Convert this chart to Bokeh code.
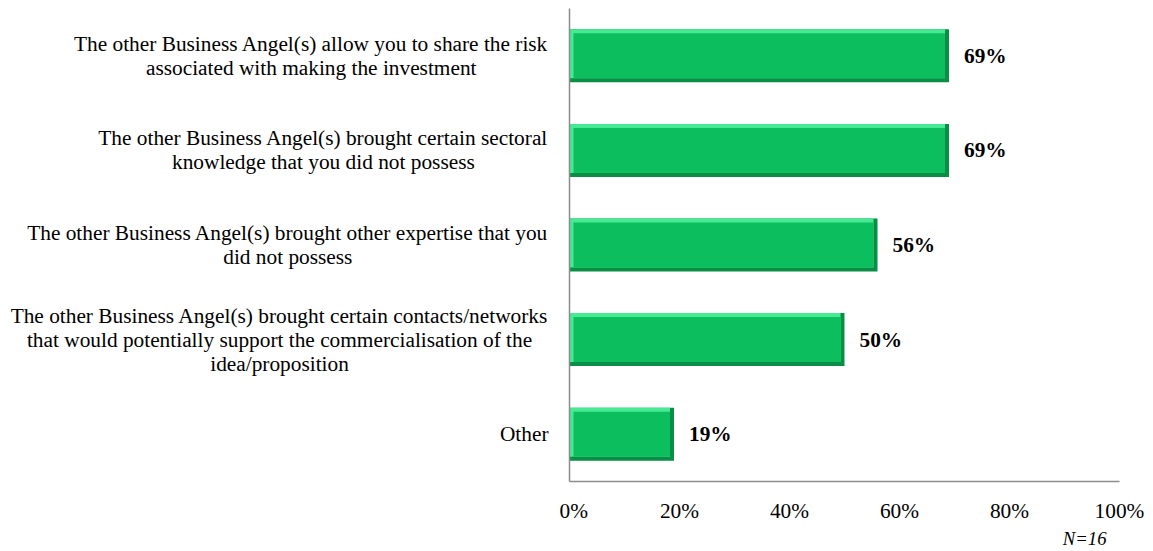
from bokeh.plotting import figure
from bokeh.layouts import row
from bokeh.models import (FactorRange, Range1d, ColumnDataSource, LabelSet, FixedTicker, Title)
from bokeh.core.properties import value
from bokeh.transform import dodge
from bokeh.embed import file_html
from bokeh.resources import INLINE

# ---------------- data ----------------
categories = [
    "The other Business Angel(s) allow you to share the risk\nassociated with making the investment",
    "The other Business Angel(s) brought certain sectoral\nknowledge that you did not possess",
    "The other Business Angel(s) brought other expertise that you\ndid not possess",
    "The other Business Angel(s) brought certain contacts/networks\nthat would potentially support the commercialisation of the\nidea/proposition",
    "Other",
]
values = [69, 69, 56, 50, 19]
value_labels = ["69%", "69%", "56%", "50%", "19%"]
tick_values = [0, 20, 40, 60, 80, 100]
tick_labels = ["0%", "20%", "40%", "60%", "80%", "100%"]
sample_note = "N=16"

# ---------------- layout / style ----------------
W, H = 1153, 551
AXIS_X = 569            # screen x of the value axis
RIGHT, TOP, BOTTOM = 34, 8, 70
MAIN_BORDER_LEFT = 10
LEFT_W = AXIS_X - MAIN_BORDER_LEFT
MAIN_W = W - LEFT_W
FONT = "'Liberation Serif'"
FS = 21.33  # px (16pt)
FS_STR = "16pt"
AXIS_COLOR = "#8c8c8c"
EDGE_DARK = "#0A8E46"
EDGE_LIGHT = "#45EA93"
FACE = "#0DBE5E"
BAR_H = 0.56

frame_w = W - AXIS_X - RIGHT
frame_h = H - TOP - BOTTOM
px_x = frame_w / 100.0
px_y = frame_h / len(categories)
bevel = 4.0
dx = bevel / px_x
dy = bevel / px_y

# approximate Times metrics (1/1000 em) for centring wrapped label blocks
_w = dict(zip("abcdefghijklmnopqrstuvwxyz",
              [444, 500, 444, 500, 444, 333, 500, 500, 278, 278, 500, 278, 778,
               500, 500, 500, 500, 333, 389, 278, 500, 500, 722, 500, 500, 444]))
_w.update(dict(zip("ABCDEFGHIJKLMNOPQRSTUVWXYZ",
                   [722, 667, 667, 722, 611, 556, 722, 722, 333, 389, 722, 611, 889,
                    722, 722, 556, 722, 667, 556, 611, 722, 722, 944, 722, 722, 611])))
_w.update({" ": 250, "(": 333, ")": 333, "/": 278, "%": 833, ".": 250, ",": 250})


def text_px(s):
    return sum(_w.get(c, 500) for c in s) / 1000.0 * FS


gap = 21
block_right = LEFT_W - (gap - MAIN_BORDER_LEFT)
label_x = [block_right - max(text_px(l) for l in c.split("\n")) / 2.0 for c in categories]

yr = FactorRange(factors=list(reversed(categories)))

src = ColumnDataSource(dict(
    cat=categories,
    val=values,
    base=[0] * len(values),
    face_left=[dx] * len(values),
    inner_right=[v - dx for v in values],
    vlab=value_labels,
    lx=label_x,
))

# ---------- left panel: category labels ----------
pl = figure(width=LEFT_W, height=H, output_backend="svg", toolbar_location=None,
            y_range=yr, x_range=Range1d(0, LEFT_W),
            min_border_left=0, min_border_right=0,
            min_border_top=TOP, min_border_bottom=BOTTOM)
pl.xaxis.visible = False
pl.yaxis.visible = False
pl.grid.visible = False
pl.outline_line_color = None
pl.text(x="lx", y="cat", text="cat", source=src, text_align="center",
        text_baseline="middle", text_font=value(FONT), text_font_size=FS_STR,
        text_color="black", text_line_height=1.0)

# ---------- main panel: bars ----------
p = figure(width=MAIN_W, height=H, output_backend="svg", toolbar_location=None,
           y_range=yr, x_range=Range1d(0, 100),
           min_border_left=MAIN_BORDER_LEFT, min_border_right=RIGHT,
           min_border_top=TOP, min_border_bottom=BOTTOM)
p.outline_line_color = None
p.background_fill_color = "white"
p.border_fill_color = "white"
p.grid.visible = False

# vertical category axis: line only (labels are drawn in the left panel)
p.yaxis.ticker = FixedTicker(ticks=[])
p.yaxis.axis_line_color = AXIS_COLOR
p.yaxis.axis_line_width = 1.5
p.yaxis.major_tick_line_color = None
p.yaxis.minor_tick_line_color = None

# bars with bevel effect
p.hbar(y="cat", left="base", right="val", height=BAR_H, source=src,
       fill_color=EDGE_DARK, line_color=None)
p.hbar(y=dodge("cat", dy / 2, range=yr), left="base", right="inner_right",
       height=BAR_H - dy, source=src, fill_color=EDGE_LIGHT, line_color=None)
p.hbar(y="cat", left="face_left", right="inner_right", height=BAR_H - 2 * dy, source=src,
       fill_color=FACE, line_color=None)

p.xaxis.ticker = FixedTicker(ticks=tick_values)
p.xaxis.major_label_overrides = {t: l for t, l in zip(tick_values, tick_labels)}
p.xaxis.axis_line_color = AXIS_COLOR
p.xaxis.axis_line_width = 1.5
p.xaxis.major_tick_line_color = None
p.xaxis.minor_tick_line_color = None
p.xaxis.major_tick_out = 0
p.xaxis.major_label_standoff = 17
p.xaxis.major_label_text_font = FONT
p.xaxis.major_label_text_font_size = FS_STR
p.xaxis.major_label_text_color = "black"

# value labels
p.add_layout(LabelSet(x="val", y="cat", text="vlab", x_offset=15, source=src,
                      text_align="left", text_baseline="middle",
                      text_font=FONT, text_font_size=FS_STR, text_font_style="bold",
                      text_color="black"))

# sample size note
p.add_layout(Title(text=sample_note, align="right", offset=13,
                   text_font=FONT, text_font_size="14pt", text_font_style="italic",
                   text_color="black", standoff=0), "below")

layout = row(pl, p)
open("out.html", "w").write(file_html(layout, INLINE))
